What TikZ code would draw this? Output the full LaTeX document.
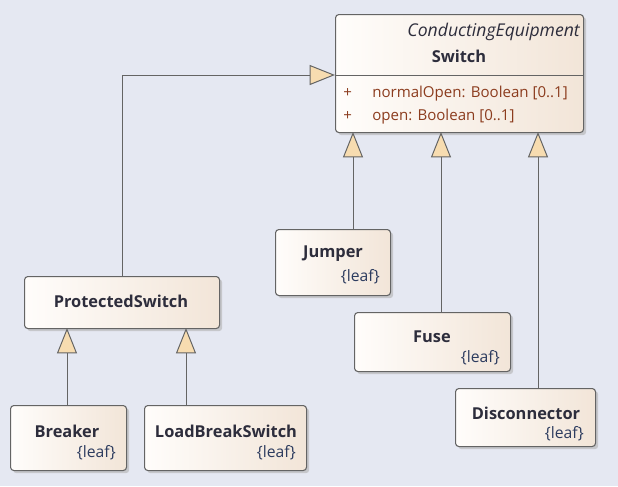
\documentclass[tikz,border=0pt]{standalone}
\usepackage{fontspec}
\setmainfont{Open Sans}
\usetikzlibrary{positioning, calc, arrows.meta, shadows}
\definecolor{canvas}{RGB}{229,232,242}
\definecolor{boxleft}{RGB}{255,253,251}
\definecolor{boxright}{RGB}{242,229,216}
\definecolor{boxline}{RGB}{100,100,100}
\definecolor{trifill}{RGB}{247,220,176}
\definecolor{namecol}{RGB}{45,45,60}
\definecolor{attrcol}{RGB}{140,60,30}
\definecolor{leafcol}{RGB}{45,60,95}

\begin{document}
\begin{tikzpicture}[
        x=0.75pt, y=-0.75pt,
        font=\fontsize{11.3}{13}\selectfont,
        umlbox/.style={rectangle, draw=boxline, line width=0.8pt, rounded corners=2.5pt,
            left color=boxleft, right color=boxright, anchor=north west, inner sep=0pt,
            drop shadow={shadow xshift=2pt, shadow yshift=-2pt, fill=black!30, opacity=0.6}},
        umlname/.style={font=\fontsize{12.3}{14}\selectfont\bfseries, text=namecol, inner sep=0pt},
        leaftag/.style={font=\fontsize{11.8}{14}\selectfont, text=leafcol, anchor=base east, inner sep=0pt},
        attr/.style={text=attrcol, anchor=base west, inner sep=0pt},
        gen/.style={draw=boxline, line width=0.75pt,
            -{Triangle[length=19pt, width=15pt, fill=trifill, line width=0.75pt]}},
    ]
        \fill[canvas] (0,0) rectangle (618,486);

        % Switch (abstract parent)
        \node[umlbox, minimum width=186pt, minimum height=88.5pt] (SW) at (335,14) {};
        \node[font=\fontsize{13.2}{15}\selectfont\itshape, text=namecol, anchor=base east, inner sep=0pt] (SWstereo) at (580,36) {ConductingEquipment};
        \node[umlname] (SWname) at (459,56) {Switch};
        \coordinate (SWdiv) at (335,75);
        \draw[boxline, line width=0.6pt] (SWdiv) -- (SWdiv -| SW.east);
        \node[attr] (A1plus) at (343,97) {+};
        \node[attr] (A1) at (372,97) {normalOpen: Boolean [0..1]};
        \node[attr] (A2plus) at (343,120) {+};
        \node[attr] (A2) at (372,120) {open: Boolean [0..1]};

        % children of Switch
        \node[umlbox, minimum width=86.25pt, minimum height=49.5pt] (JMP) at (275,229) {};
        \node[umlname] (JMPname) at (333,254) {Jumper};
        \node[leaftag] (JMPleaf) at (380,281) {\{leaf\}};

        \node[umlbox, minimum width=117pt, minimum height=44.25pt] (FUS) at (354,312) {};
        \node[umlname] (FUSname) at (432,337) {Fuse};
        \node[leaftag] (FUSleaf) at (500,362) {\{leaf\}};

        \node[umlbox, minimum width=105pt, minimum height=43.5pt] (DIS) at (455,388) {};
        \node[umlname] (DISname) at (526,413) {Disconnector};
        \node[leaftag] (DISleaf) at (584,438) {\{leaf\}};

        \node[umlbox, minimum width=146.25pt, minimum height=39pt] (PRS) at (24,276) {};
        \node[umlname] (PRSname) at (121,301) {ProtectedSwitch};

        % children of ProtectedSwitch
        \node[umlbox, minimum width=87pt, minimum height=48.75pt] (BRK) at (10,405) {};
        \node[umlname] (BRKname) at (67,431) {Breaker};
        \node[leaftag] (BRKleaf) at (116,457) {\{leaf\}};

        \node[umlbox, minimum width=121.5pt, minimum height=48.75pt] (LBS) at (144,405) {};
        \node[umlname] (LBSname) at (226,431) {LoadBreakSwitch};
        \node[leaftag] (LBSleaf) at (296,457) {\{leaf\}};

        % generalizations
        \coordinate (SWj) at (353,132);
        \coordinate (SWf) at (441,132);
        \coordinate (SWd) at (538,132);
        \coordinate (PRSb) at (67,328);
        \coordinate (PRSl) at (186,328);
        \draw[gen] (PRS.north) |- (SWdiv);
        \draw[gen] (JMP.north -| SWj) -- (SWj);
        \draw[gen] (FUS.north -| SWf) -- (SWf);
        \draw[gen] (DIS.north -| SWd) -- (SWd);
        \draw[gen] (BRK.north -| PRSb) -- (PRSb);
        \draw[gen] (LBS.north -| PRSl) -- (PRSl);
    \end{tikzpicture}
\end{document}
